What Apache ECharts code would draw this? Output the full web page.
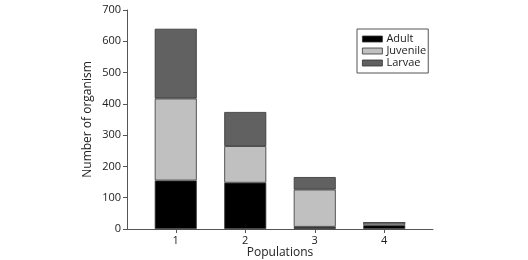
<!DOCTYPE html>
<html>
<head>
<meta charset="utf-8">
<script src="https://cdn.jsdelivr.net/npm/echarts@6/dist/echarts.min.js"></script>
<style>
  html, body { margin: 0; padding: 0; background: #fff; }
  #chart { width: 528px; height: 260px; }
</style>
</head>
<body>
<div id="chart"></div>
<script>
// populations and stacked counts
const populations = ['1', '2', '3', '4'];
const adult = [155, 148, 7, 12];
const juvenile = [262, 117, 119, 8];
const larvae = [223, 109, 40, 0];

const chart = echarts.init(document.getElementById('chart'));

const font = 'Open Sans';
const txt = '#222';
const axisCol = '#555';

function series(name, values, color) {
  return {
    name: name,
    type: 'bar',
    stack: 'pop',
    xAxisIndex: 1,
    yAxisIndex: 1,
    barWidth: 42,
    data: values,
    itemStyle: { color: color, borderColor: '#333', borderWidth: 0.8 },
  };
}

chart.setOption({
  animation: false,
  textStyle: { fontFamily: font },
  // grid 0 carries the full axis frame, grid 1 the categories and bars
  grid: [
    { left: 127, right: 95, top: 10, bottom: 31, outerBoundsMode: 'none' },
    { left: 141, right: 109, top: 10, bottom: 31, outerBoundsMode: 'none' },
  ],
  legend: {
    orient: 'vertical',
    left: 357,
    top: 29,
    icon: 'rect',
    itemWidth: 20,
    itemHeight: 6,
    itemGap: 0,
    itemStyle: { borderColor: '#333', borderWidth: 0.8 },
    padding: [4, 2, 4, 5],
    borderColor: axisCol,
    borderWidth: 1,
    textStyle: { fontFamily: font, fontSize: 11, color: txt, lineHeight: 12, padding: [0, 0, 0, -1] },
    data: ['Adult', 'Juvenile', 'Larvae'],
  },
  xAxis: [
    {
      gridIndex: 0,
      type: 'value',
      min: 0,
      max: 1,
      name: 'Populations',
      nameLocation: 'middle',
      nameGap: 18,
      nameMoveOverlap: false,
      nameTextStyle: { fontSize: 12, color: txt },
      splitLine: { show: false },
      axisLine: { show: true, lineStyle: { color: axisCol } },
      axisTick: { show: false },
      axisLabel: { show: false },
    },
    {
      gridIndex: 1,
      type: 'category',
      data: populations,
      axisLine: { show: false },
      axisTick: { show: true, alignWithLabel: true, length: 4, lineStyle: { color: axisCol } },
      axisLabel: { fontSize: 11, color: txt, margin: 6 },
    },
  ],
  yAxis: [
    {
      gridIndex: 0,
      type: 'value',
      min: 0,
      max: 700,
      interval: 100,
      name: 'Number of organism',
      nameLocation: 'middle',
      nameGap: 33,
      nameMoveOverlap: false,
      nameTextStyle: { fontSize: 12, color: txt },
      splitLine: { show: false },
      axisLine: { show: true, lineStyle: { color: axisCol } },
      axisTick: { show: true, length: 4, lineStyle: { color: axisCol } },
      axisLabel: { fontSize: 11, color: txt, margin: 6 },
    },
    {
      gridIndex: 1,
      type: 'value',
      min: 0,
      max: 700,
      show: false,
    },
  ],
  series: [
    series('Adult', adult, '#000000'),
    series('Juvenile', juvenile, '#c0c0c0'),
    series('Larvae', larvae, '#616161'),
  ],
});
</script>
</body>
</html>
